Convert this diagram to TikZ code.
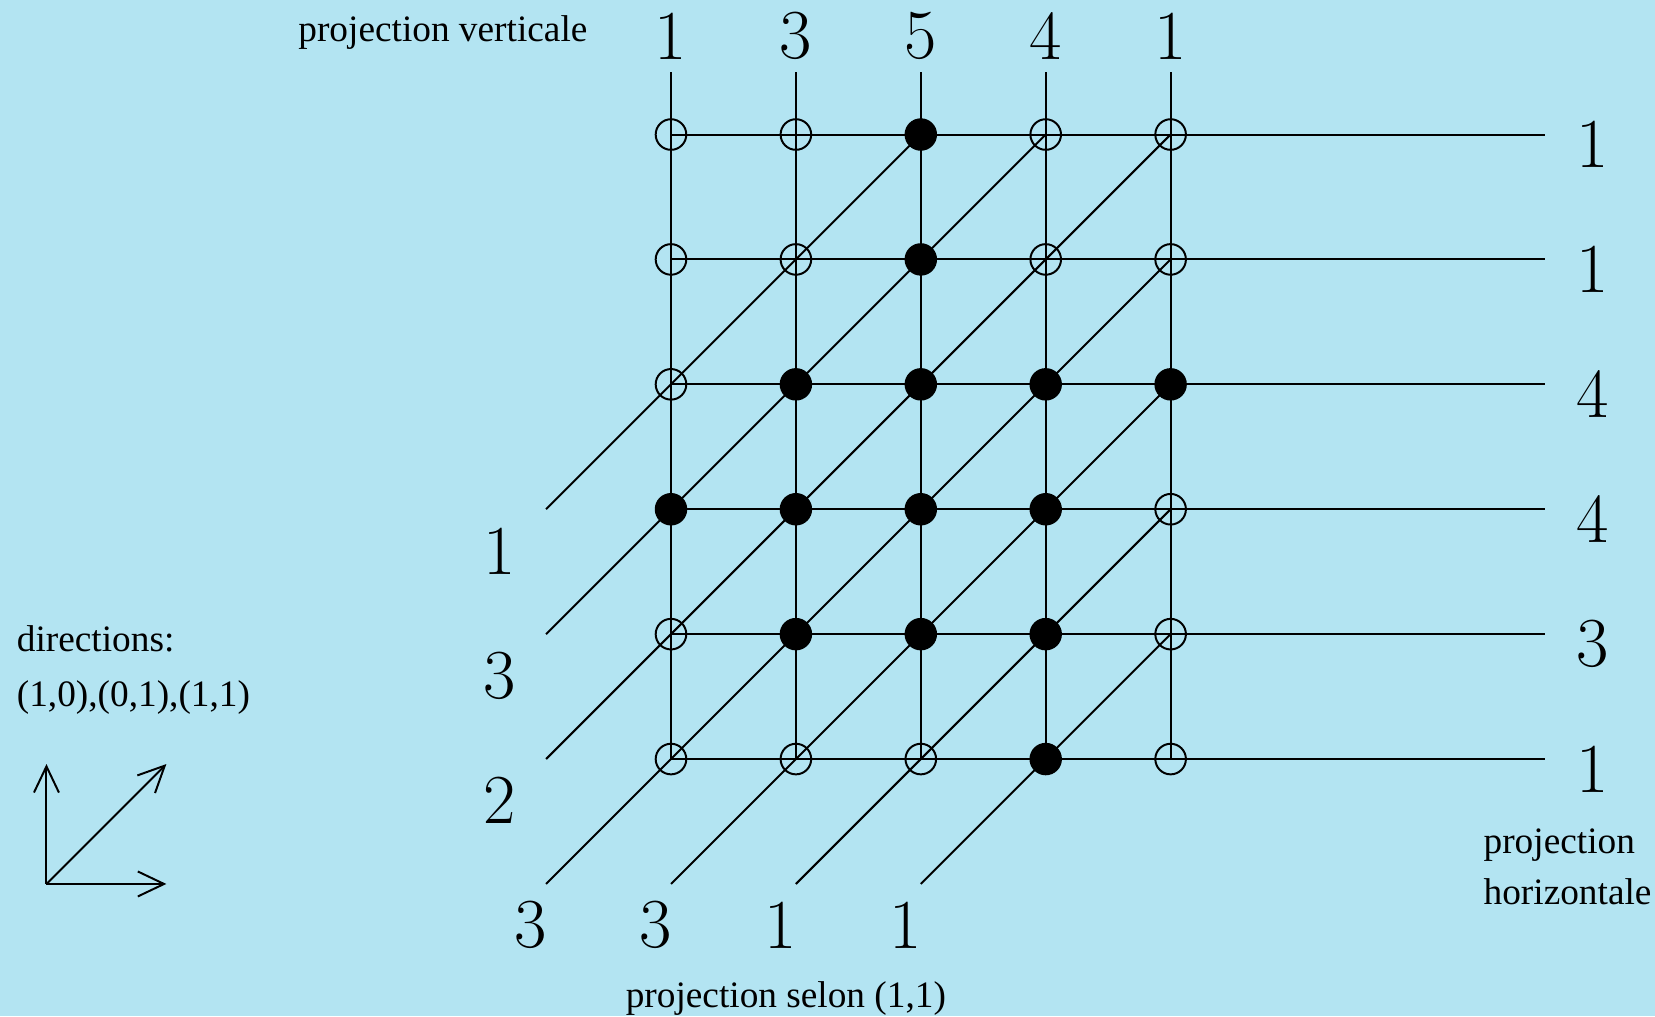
\documentclass[tikz,border=0pt]{standalone}
\usepackage{fontspec}
\newfontfamily\txtfont{Liberation Serif}
\usetikzlibrary{arrows.meta}
\definecolor{clrBack}{RGB}{179,228,242}
\tikzset{
  gridline/.style={line width=0.45pt},
  emptydot/.style={circle, draw, line width=0.45pt, minimum size=2.45mm, inner sep=0pt},
  fulldot/.style={circle, fill=black, minimum size=2.6mm, inner sep=0pt},
  countlabel/.style={font=\fontsize{16}{19}\selectfont, inner sep=0pt},
  captext/.style={font=\txtfont\fontsize{8.5}{10}\selectfont, inner sep=0pt, anchor=base west},
  dirarrow/.style={-{Straight Barb[length=2.1mm,width=2mm]}, line width=0.45pt}
}

\begin{document}
\begin{tikzpicture}[x=1cm, y=1cm]

\fill[clrBack] (-5.372,-2.058) rectangle (7.878,6.077);
\useasboundingbox (-5.372,-2.058) rectangle (7.878,6.077);

% grid lines
\foreach \i in {0,...,4}
  \draw[gridline] (\i,0) -- (\i,5.5);
\foreach \j in {0,...,5}
  \draw[gridline] (0,\j) -- (7,\j);

% diagonals of direction (1,1)
\foreach \sx/\sy/\ex/\ey in {-1/2/2/5, -1/1/3/5, -1/0/4/5, -1/-1/4/4, 0/-1/4/3, 1/-1/4/2, 2/-1/4/1}
  \draw[gridline] (\sx,\sy) -- (\ex,\ey);

% points of the set
\foreach \i/\j in {0/5,1/5,3/5,4/5, 0/4,1/4,3/4,4/4, 0/3, 4/2, 0/1,4/1, 0/0,1/0,2/0,4/0}
  \node[emptydot] (p\i\j) at (\i,\j) {};
\foreach \i/\j in {2/5, 2/4, 1/3,2/3,3/3,4/3, 0/2,1/2,2/2,3/2, 1/1,2/1,3/1, 3/0}
  \node[fulldot] (p\i\j) at (\i,\j) {};

% projections
\foreach \i/\n in {0/1,1/3,2/5,3/4,4/1}
  \node[countlabel] (v\i) at (\i,5.79) {\n};
\foreach \j/\n in {5/1,4/1,3/4,2/4,1/3,0/1}
  \node[countlabel] (h\j) at (7.38,\j-0.08) {\n};
\foreach \j/\n in {2/1,1/3,0/2}
  \node[countlabel] (dl\j) at (-1.374,\j-0.333) {\n};
\foreach \i/\n in {-1/3,0/3,1/1,2/1}
  \node[countlabel] (db\i) at (\i-0.12,-1.33) {\n};

\node[captext] (capv) at (-2.99,5.743) {projection verticale};
\node[captext] (caph1) at (6.499,-0.755) {projection};
\node[captext] (caph2) at (6.499,-1.161) {horizontale};
\node[captext] (capd) at (-0.369,-1.99) {projection selon (1,1)};

% directions
\node[captext] (dirs1) at (-5.244,0.859) {directions:};
\node[captext] (dirs2) at (-5.244,0.424) {(1,0),(0,1),(1,1)};
\coordinate (o) at (-5,-1);
\draw[dirarrow] (o) -- ++(0.96,0);
\draw[dirarrow] (o) -- ++(0,0.96);
\draw[dirarrow] (o) -- ++(0.96,0.96);

\end{tikzpicture}
\end{document}
